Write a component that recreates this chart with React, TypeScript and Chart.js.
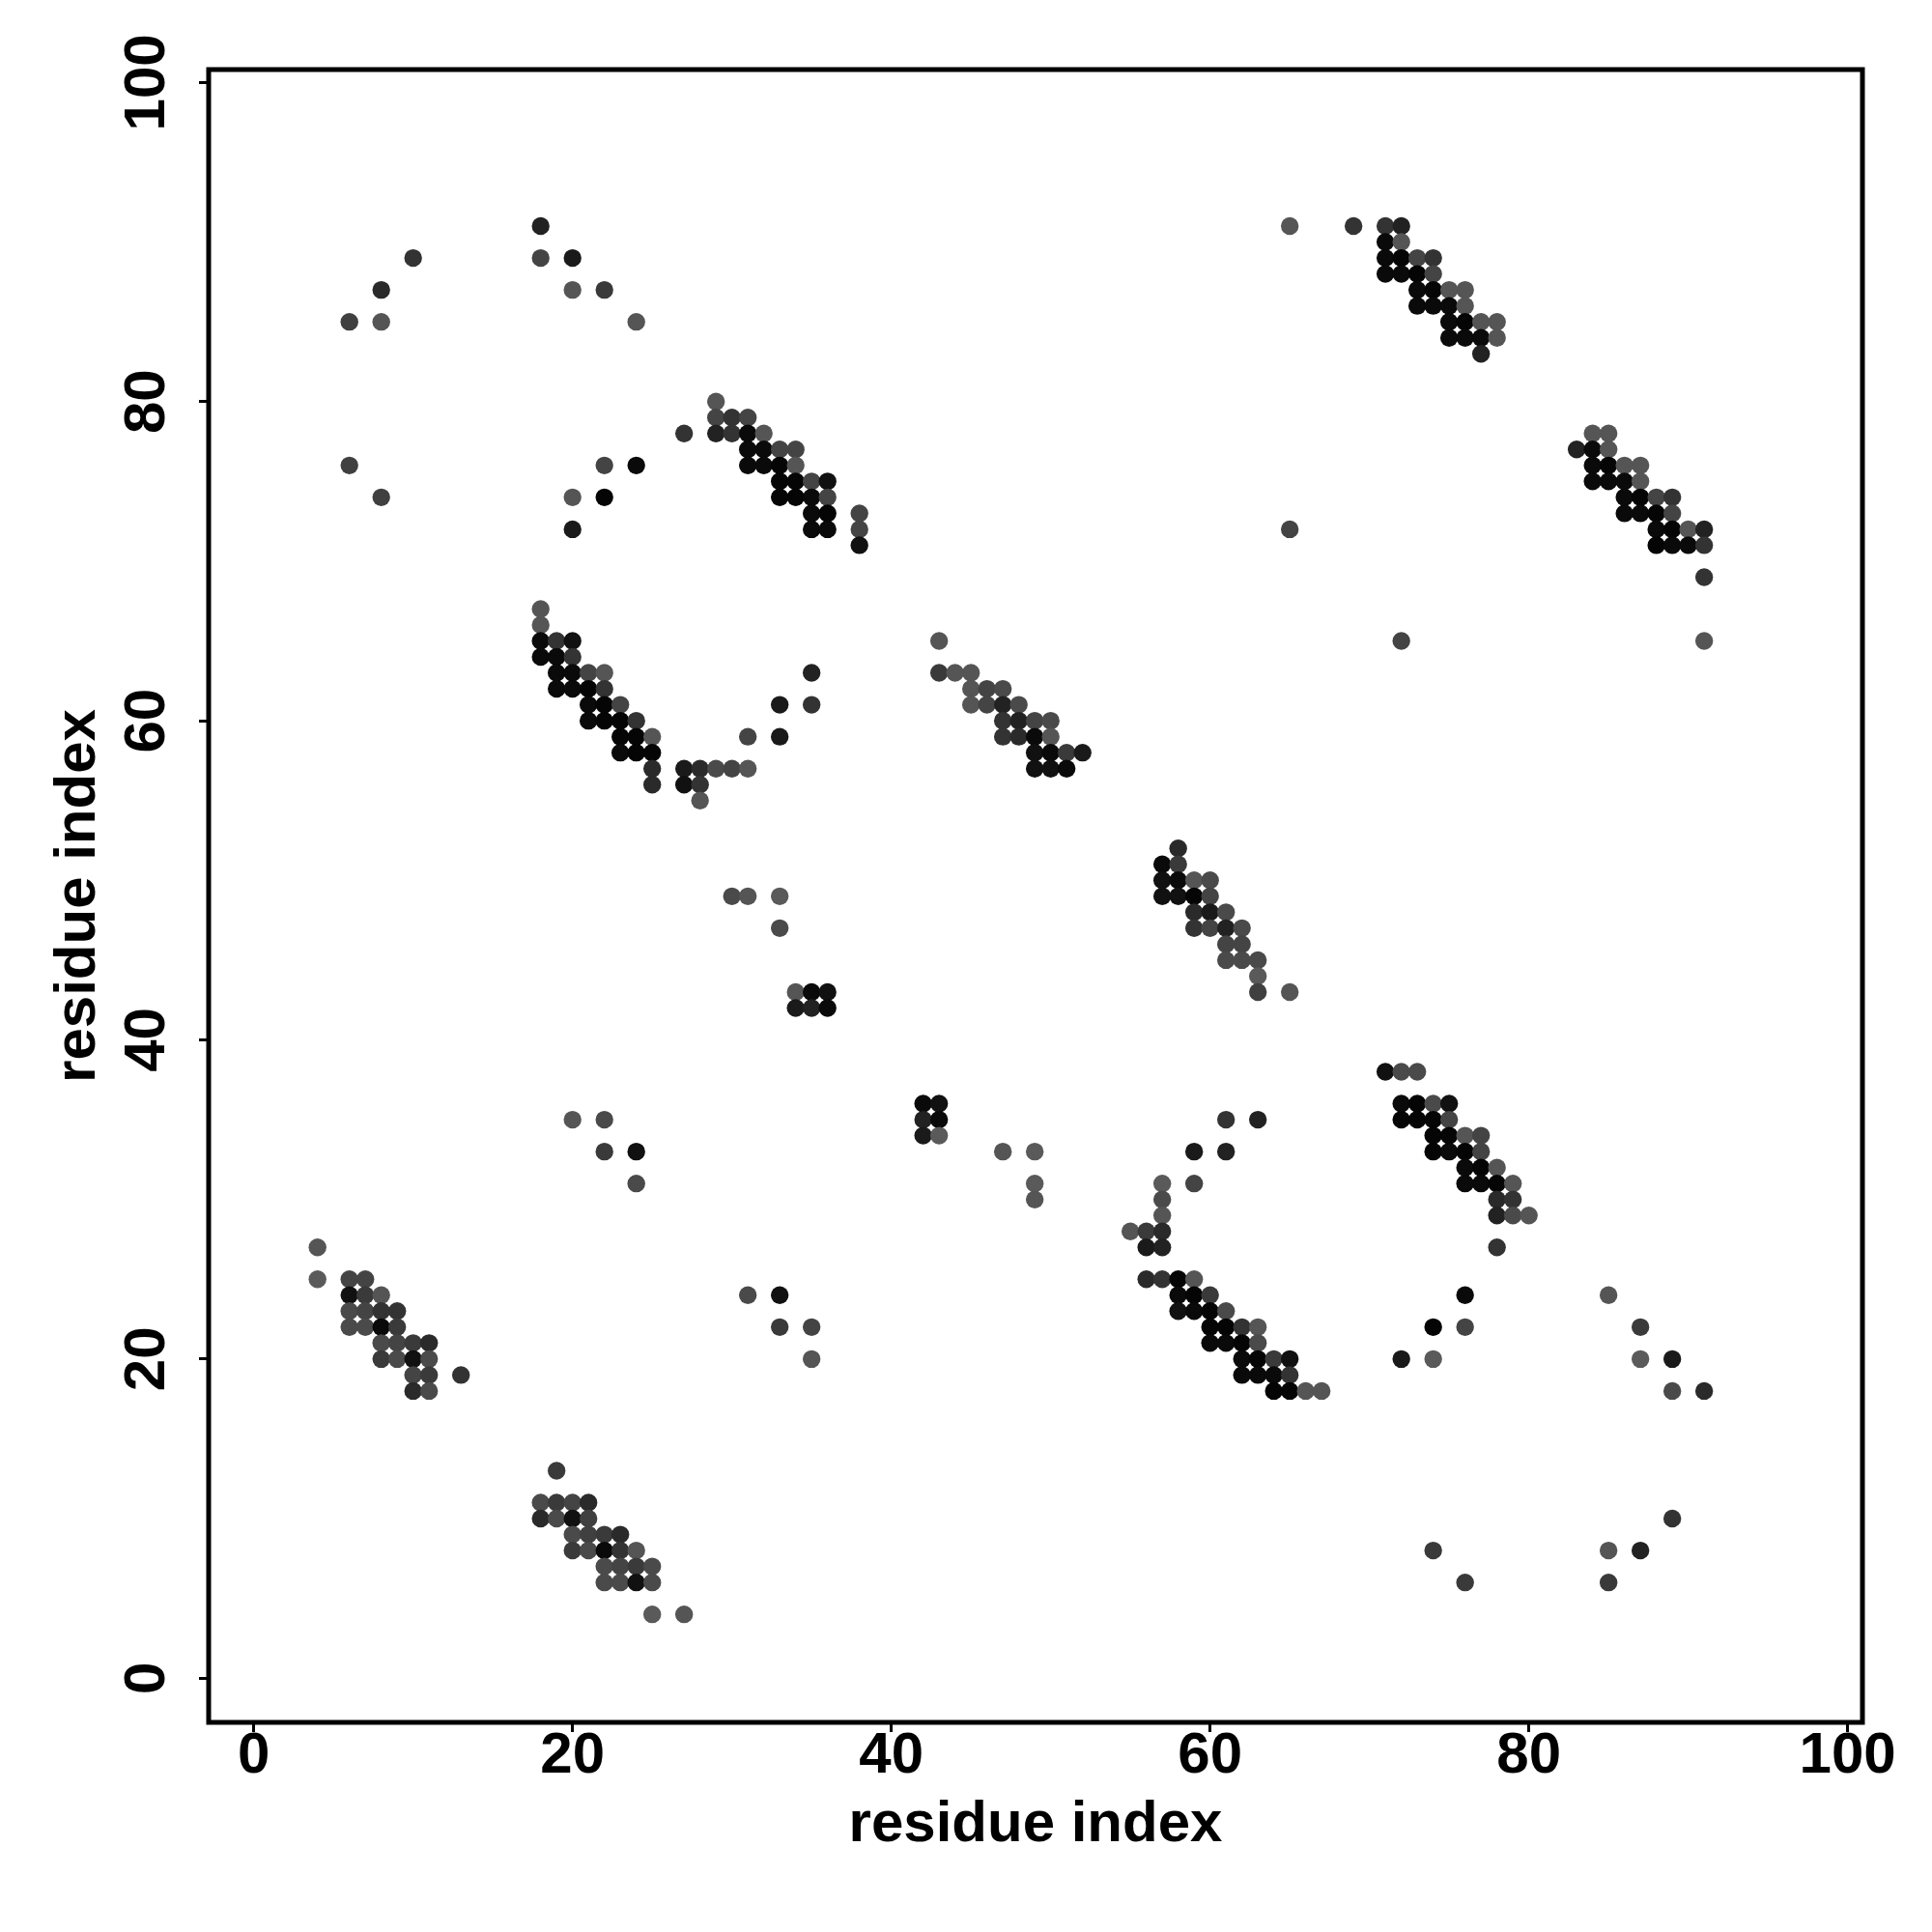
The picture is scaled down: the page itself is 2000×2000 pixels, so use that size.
import React, { useEffect, useRef } from "react";
import { Chart, registerables } from "chart.js";

Chart.register(...registerables);

// ---- axis description ----
const xTickValues = [0, 20, 40, 60, 80, 100];
const yTickValues = [0, 20, 40, 60, 80, 100];
const xAxisTitle = "residue index";
const yAxisTitle = "residue index";
const xLimits = [-2.83, 100.93];
const yLimits = [-2.77, 100.81];

// ---- contacts: [residue i, residue j, gray level 0..255] ----
const contactsTopLeft = [
  [18, 91, 34], [10, 89, 51], [18, 89, 68], [20, 89, 26], [8, 87, 42], [20, 87, 85],
  [22, 87, 58], [6, 85, 64], [8, 85, 85], [24, 85, 85], [6, 76, 64], [8, 74, 64],
  [22, 76, 68], [24, 76, 10], [20, 74, 85], [22, 74, 5], [20, 72, 26],
];

const contactsStrandB = [
  [29, 80, 85], [29, 79, 68], [30, 79, 51], [31, 79, 68], [27, 78, 51], [29, 78, 34],
  [30, 78, 51], [31, 78, 10], [32, 78, 85], [31, 77, 10], [32, 77, 10], [33, 77, 68],
  [34, 77, 68], [31, 76, 10], [32, 76, 10], [33, 76, 5], [34, 76, 85], [33, 75, 5],
  [34, 75, 5], [35, 75, 68], [36, 75, 17], [33, 74, 5], [34, 74, 5], [35, 74, 10],
  [36, 74, 68], [35, 73, 10], [36, 73, 5], [38, 73, 68], [35, 72, 10], [36, 72, 10],
  [38, 72, 68], [38, 71, 17],
];

const contactsStrandC = [
  [18, 67, 85], [18, 66, 85], [18, 65, 10], [19, 65, 51], [20, 65, 17], [18, 64, 10],
  [19, 64, 10], [20, 64, 51], [19, 63, 10], [20, 63, 10], [21, 63, 68], [22, 63, 85],
  [19, 62, 10], [20, 62, 10], [21, 62, 5], [22, 62, 51], [21, 61, 10], [22, 61, 5],
  [23, 61, 68], [21, 60, 10], [22, 60, 5], [23, 60, 5], [24, 60, 51], [23, 59, 5],
  [24, 59, 5], [25, 59, 85], [23, 58, 10], [24, 58, 5], [25, 58, 5], [25, 57, 42],
  [25, 56, 42], [27, 57, 26], [28, 57, 42], [29, 57, 74], [30, 57, 68], [31, 57, 85],
  [27, 56, 17], [28, 56, 51], [28, 55, 85], [33, 61, 26], [33, 59, 26], [31, 59, 68],
  [35, 63, 34], [35, 61, 51],
];

const contactsMidLeft = [
  [30, 49, 74], [31, 49, 85], [33, 49, 90], [33, 47, 74], [34, 43, 85], [35, 43, 10],
  [36, 43, 17], [34, 42, 26], [35, 42, 34], [36, 42, 10],
];

const contactsStrandE = [
  [43, 65, 85], [43, 63, 58], [44, 63, 85], [45, 63, 85], [45, 62, 85], [46, 62, 68],
  [47, 62, 74], [45, 61, 85], [46, 61, 68], [47, 61, 34], [48, 61, 74], [47, 60, 51],
  [48, 60, 34], [49, 60, 68], [50, 60, 74], [47, 59, 51], [48, 59, 42], [49, 59, 10],
  [50, 59, 85], [49, 58, 17], [50, 58, 10], [51, 58, 58], [52, 58, 26], [49, 57, 17],
  [50, 57, 17], [51, 57, 10],
];

const contactsStrandF = [
  [58, 52, 42], [57, 51, 10], [58, 51, 58], [57, 50, 17], [58, 50, 10], [59, 50, 85],
  [60, 50, 74], [57, 49, 17], [58, 49, 17], [59, 49, 5], [60, 49, 68], [59, 48, 42],
  [60, 48, 26], [61, 48, 74], [59, 47, 51], [60, 47, 68], [61, 47, 34], [62, 47, 74],
  [61, 46, 68], [62, 46, 68], [61, 45, 74], [62, 45, 74], [63, 45, 74], [63, 44, 90],
  [63, 43, 64], [65, 43, 85],
];

const contactsStrandG = [
  [42, 36, 10], [43, 36, 17], [42, 35, 34], [43, 35, 10], [42, 34, 26], [43, 34, 90],
  [47, 33, 85], [49, 33, 90], [49, 31, 90], [49, 30, 85], [61, 35, 51], [63, 35, 34],
  [59, 33, 26], [61, 33, 34], [57, 31, 90], [59, 31, 68], [57, 30, 74], [57, 29, 85],
  [55, 28, 85], [56, 28, 58], [57, 28, 42], [56, 27, 26], [57, 27, 34], [56, 25, 42],
  [57, 25, 51], [58, 25, 5], [59, 25, 85], [58, 24, 10], [59, 24, 5], [60, 24, 58],
  [58, 23, 17], [59, 23, 10], [60, 23, 5], [61, 23, 74], [60, 22, 5], [61, 22, 5],
  [62, 22, 51], [63, 22, 85], [60, 21, 10], [61, 21, 10], [62, 21, 5], [63, 21, 74],
  [62, 20, 10], [63, 20, 5], [64, 20, 58], [65, 20, 17], [62, 19, 10], [63, 19, 10],
  [64, 19, 10], [65, 19, 51], [64, 18, 5], [65, 18, 5], [66, 18, 85], [67, 18, 85],
];

const contactsStrandH = [
  [71, 38, 17], [72, 38, 74], [73, 38, 74], [72, 36, 10], [73, 36, 5], [74, 36, 74],
  [75, 36, 17], [72, 35, 5], [73, 35, 5], [74, 35, 5], [75, 35, 68], [74, 34, 5],
  [75, 34, 5], [76, 34, 85], [77, 34, 68], [74, 33, 5], [75, 33, 10], [76, 33, 5],
  [77, 33, 68], [76, 32, 10], [77, 32, 5], [78, 32, 85], [76, 31, 10], [77, 31, 10],
  [78, 31, 5], [79, 31, 85], [78, 30, 42], [79, 30, 51], [78, 29, 34], [79, 29, 74],
  [80, 29, 85], [78, 27, 51],
];

const contactsLowerRight = [
  [76, 24, 10], [74, 22, 5], [76, 22, 68], [72, 20, 26], [74, 20, 90], [85, 24, 85],
  [87, 22, 58], [87, 20, 90], [89, 20, 26], [89, 18, 74], [91, 18, 42], [89, 10, 51],
  [74, 8, 58], [85, 8, 85], [87, 8, 34], [76, 6, 58], [85, 6, 58],
];

const contactsLowerLeft = [
  [20, 35, 85], [22, 35, 74], [22, 33, 58], [24, 33, 17], [24, 31, 74], [31, 24, 74],
  [33, 24, 17], [33, 22, 58], [35, 22, 68], [35, 20, 85], [4, 27, 85], [4, 25, 90],
  [6, 25, 68], [7, 25, 68], [6, 24, 17], [7, 24, 58], [8, 24, 85], [6, 23, 74],
  [7, 23, 68], [8, 23, 51], [9, 23, 51], [6, 22, 74], [7, 22, 74], [8, 22, 10],
  [9, 22, 58], [8, 21, 74], [9, 21, 68], [10, 21, 58], [11, 21, 42], [8, 20, 58],
  [9, 20, 74], [10, 20, 17], [11, 20, 74], [10, 19, 68], [11, 19, 58], [10, 18, 42],
  [11, 18, 74], [13, 19, 51], [19, 13, 58], [18, 11, 74], [19, 11, 58], [20, 11, 68],
  [21, 11, 42], [18, 10, 42], [19, 10, 74], [20, 10, 17], [21, 10, 64], [20, 9, 74],
  [21, 9, 64], [22, 9, 58], [23, 9, 42], [20, 8, 58], [21, 8, 74], [22, 8, 10],
  [23, 8, 51], [24, 8, 85], [22, 7, 74], [23, 7, 68], [24, 7, 58], [25, 7, 74],
  [22, 6, 74], [23, 6, 74], [24, 6, 17], [25, 6, 74], [25, 4, 90], [27, 4, 85],
];

const contactsTopRight = [
  [65, 91, 85], [69, 91, 51], [71, 91, 51], [72, 91, 34], [71, 90, 10], [72, 90, 85],
  [71, 89, 10], [72, 89, 5], [73, 89, 68], [74, 89, 51], [71, 88, 10], [72, 88, 10],
  [73, 88, 5], [74, 88, 68], [73, 87, 10], [74, 87, 5], [75, 87, 85], [76, 87, 85],
  [73, 86, 10], [74, 86, 10], [75, 86, 10], [76, 86, 85], [75, 85, 10], [76, 85, 5],
  [77, 85, 85], [78, 85, 85], [75, 84, 10], [76, 84, 10], [77, 84, 10], [78, 84, 85],
  [77, 83, 34], [65, 72, 68], [84, 78, 85], [85, 78, 85], [83, 77, 34], [84, 77, 10],
  [85, 77, 85], [84, 76, 10], [85, 76, 5], [86, 76, 85], [87, 76, 85], [84, 75, 10],
  [85, 75, 10], [86, 75, 10], [87, 75, 85], [86, 74, 10], [87, 74, 5], [88, 74, 68],
  [89, 74, 51], [86, 73, 10], [87, 73, 10], [88, 73, 5], [89, 73, 68], [88, 72, 10],
  [89, 72, 5], [90, 72, 85], [91, 72, 34], [88, 71, 5], [89, 71, 10], [90, 71, 10],
  [91, 71, 51], [91, 69, 51], [91, 65, 85], [72, 65, 68],
];

const allContacts = [
  ...contactsTopLeft,
  ...contactsStrandB,
  ...contactsStrandC,
  ...contactsMidLeft,
  ...contactsStrandE,
  ...contactsStrandF,
  ...contactsStrandG,
  ...contactsStrandH,
  ...contactsLowerRight,
  ...contactsLowerLeft,
  ...contactsTopRight,
];

const FONT_FAMILY = '"Liberation Sans", Arial, Helvetica, sans-serif';

export default function App() {
  const canvasRef = useRef<HTMLCanvasElement | null>(null);

  useEffect(() => {
    const canvas = canvasRef.current;
    if (!canvas) return;

    const framePlugin = {
      id: "rFrame",
      afterDraw(chart: any) {
        const { ctx, chartArea } = chart;
        ctx.save();
        ctx.strokeStyle = "#000";
        ctx.lineWidth = 5;
        ctx.strokeRect(
          chartArea.left,
          chartArea.top,
          chartArea.right - chartArea.left,
          chartArea.bottom - chartArea.top
        );
        // rotated y tick labels (R style, las = 0)
        const ys = chart.scales.y;
        ctx.fillStyle = "#000";
        ctx.font = `bold 60px ${FONT_FAMILY}`;
        ctx.textAlign = "center";
        ctx.textBaseline = "alphabetic";
        for (const v of yTickValues) {
          const py = ys.getPixelForValue(v);
          ctx.save();
          ctx.translate(ys.right - 46, py);
          ctx.rotate(-Math.PI / 2);
          ctx.fillText(String(v), 0, 0);
          ctx.restore();
        }
        ctx.restore();
      },
    };

    const chart = new Chart(canvas, {
      type: "scatter",
      data: {
        datasets: [
          {
            data: allContacts.map(([x, y]) => ({ x, y })),
            backgroundColor: allContacts.map(([, , g]) => `rgb(${g},${g},${g})`),
            pointRadius: 9.2,
            pointHoverRadius: 9.2,
            borderWidth: 0,
          },
        ],
      },
      options: {
        animation: false,
        responsive: false,
        devicePixelRatio: 1,
        events: [],
        layout: { padding: { top: 72, right: 72, left: 0, bottom: 0 } },
        plugins: {
          legend: { display: false },
          tooltip: { enabled: false },
        },
        scales: {
          x: {
            type: "linear",
            min: xLimits[0],
            max: xLimits[1],
            afterBuildTicks: (s: any) => {
              s.ticks = xTickValues.map((v) => ({ value: v }));
            },
            afterFit: (s: any) => {
              s.height = 217;
            },
            border: { display: false },
            grid: {
              drawOnChartArea: false,
              drawTicks: true,
              tickLength: 10,
              tickWidth: 3,
              tickColor: "#000",
            },
            ticks: {
              color: "#000",
              autoSkip: false,
              maxRotation: 0,
              minRotation: 0,
              padding: 1,
              font: { family: FONT_FAMILY, size: 60, weight: "bold", lineHeight: 0.8 },
            },
            title: {
              display: true,
              text: xAxisTitle,
              color: "#000",
              font: { family: FONT_FAMILY, size: 60, weight: "bold", lineHeight: 1 },
              padding: { top: 0, bottom: 81 },
            },
          },
          y: {
            type: "linear",
            min: yLimits[0],
            max: yLimits[1],
            afterBuildTicks: (s: any) => {
              s.ticks = yTickValues.map((v) => ({ value: v }));
            },
            afterFit: (s: any) => {
              s.width = 216;
            },
            border: { display: false },
            grid: {
              drawOnChartArea: false,
              drawTicks: true,
              tickLength: 10,
              tickWidth: 3,
              tickColor: "#000",
            },
            ticks: { display: false },
            title: {
              display: true,
              text: yAxisTitle,
              color: "#000",
              font: { family: FONT_FAMILY, size: 60, weight: "bold", lineHeight: 1 },
              padding: { top: 51, bottom: 0 },
            },
          },
        },
      },
      plugins: [framePlugin],
    });

    return () => chart.destroy();
  }, []);

  return (
    <div
      style={{
        position: "absolute",
        left: 0,
        top: 0,
        width: 2000,
        height: 2000,
        background: "#fff",
      }}
    >
      <canvas
        ref={canvasRef}
        width={2000}
        height={2000}
        style={{ display: "block", width: 2000, height: 2000 }}
      />
    </div>
  );
}
